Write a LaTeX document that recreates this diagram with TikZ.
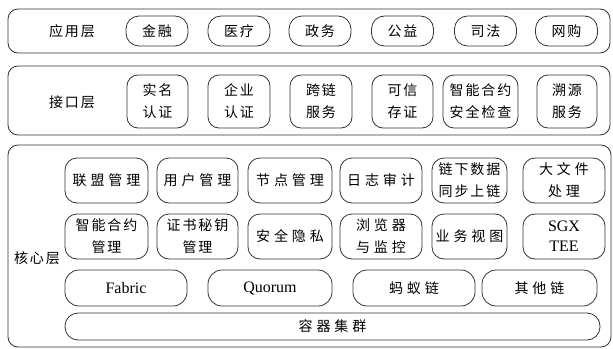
\documentclass[tikz,border=0pt]{standalone}
\usepackage{fontspec}
\setmainfont{Liberation Serif}
\newfontfamily\cjk[LetterSpace=14]{Noto Sans CJK SC}
\newfontfamily\cjkw[LetterSpace=28]{Noto Sans CJK SC}
\tikzset{
  layerbox/.style={draw=black!80, line width=0.8pt, rounded corners=10pt, inner sep=0pt},
  itembox/.style={draw=black!80, line width=0.8pt, rounded corners=11pt, inner sep=0pt, align=center,
    font=\cjk\fontsize{14}{22}\selectfont},
  coreitem/.style={itembox, font=\cjkw\fontsize{14}{22}\selectfont},
  latin/.style={font=\fontsize{16}{19}\selectfont},
  lbl/.style={inner sep=0pt, font=\cjk\fontsize{14}{22}\selectfont},
}
\begin{document}
\begin{tikzpicture}[x=1pt,y=-1pt]
\useasboundingbox (0,0) rectangle (613,348);
% outer layers
\node[layerbox, minimum width=602pt, minimum height=44pt] (L1) at (309,31) {};
\node[layerbox, minimum width=602pt, minimum height=69pt] (L2) at (309,100.5) {};
\node[layerbox, minimum width=603pt, minimum height=202pt] (L3) at (309.5,246) {};
% labels
\node[lbl] (t1) at (72,31) {应用层};
\node[lbl] (t2) at (72,102) {接口层};
\node[lbl] (t3) at (37,258) {核心层};
% application layer
\begin{scope}[every node/.style={itembox, rounded corners=13pt, minimum width=62pt, minimum height=30pt}]
\node (a1) at (157,31) {金融};
\node (a2) at (239,31) {医疗};
\node (a3) at (320,31) {政务};
\node (a4) at (402.5,31) {公益};
\node (a5) at (485.5,31) {司法};
\node (a6) at (566.5,31) {网购};
\end{scope}
% interface layer
\begin{scope}[every node/.style={itembox, minimum height=53pt}]
\node[minimum width=61pt] (b1) at (157.5,101.5) {实名\\认证};
\node[minimum width=62pt] (b2) at (239,101.5) {企业\\认证};
\node[minimum width=62pt] (b3) at (321,101.5) {跨链\\服务};
\node[minimum width=61pt] (b4) at (402.5,101.5) {可信\\存证};
\node[minimum width=75pt] (b5) at (480.5,101.5) {智能合约\\安全检查};
\node[minimum width=60pt] (b6) at (567,101.5) {溯源\\服务};
\end{scope}
% core layer row 1
\begin{scope}[every node/.style={coreitem, rounded corners=12pt, minimum height=45pt}]
\node[minimum width=83pt] (c1) at (106.5,180.5) {联盟管理};
\node[minimum width=81pt] (c2) at (197.5,180.5) {用户管理};
\node[minimum width=84pt] (c3) at (290,180.5) {节点管理};
\node[minimum width=82pt] (c4) at (381,180.5) {日志审计};
\node[minimum width=75pt, font=\cjk\fontsize{14}{22}\selectfont] (c5) at (469.5,180.5) {链下数据\\同步上链};
\node[minimum width=82pt] (c6) at (564,180.5) {大文件\\处理};
% row 2
\node[minimum width=83pt, font=\cjk\fontsize{14}{22}\selectfont] (d1) at (106.5,236.5) {智能合约\\管理};
\node[minimum width=81pt, font=\cjk\fontsize{14}{22}\selectfont] (d2) at (197.5,236.5) {证书秘钥\\管理};
\node[minimum width=84pt] (d3) at (290,236.5) {安全隐私};
\node[minimum width=82pt] (d4) at (381,236.5) {浏览器\\与监控};
\node[minimum width=75pt] (d5) at (469.5,236.5) {业务视图};
\node[minimum width=82pt, latin, font=\fontsize{16}{20}\selectfont] (d6) at (564,236.5) {SGX\\TEE};
\end{scope}
% row 3
\begin{scope}[every node/.style={coreitem, rounded corners=14pt, minimum height=36pt}]
\node[minimum width=122pt, font=\fontsize{16}{19}\selectfont] (e1) at (126,288) {Fabric};
\node[minimum width=124pt, font=\fontsize{16}{19}\selectfont] (e2) at (270,288) {Quorum};
\node[minimum width=122pt] (e3) at (414,288) {蚂蚁链};
\node[minimum width=115pt] (e4) at (539.5,288) {其他链};
\end{scope}
% row 4
\node[coreitem, rounded corners=13pt, minimum width=535pt, minimum height=27pt] (f1) at (332.5,326.5) {容器集群};
\end{tikzpicture}
\end{document}
